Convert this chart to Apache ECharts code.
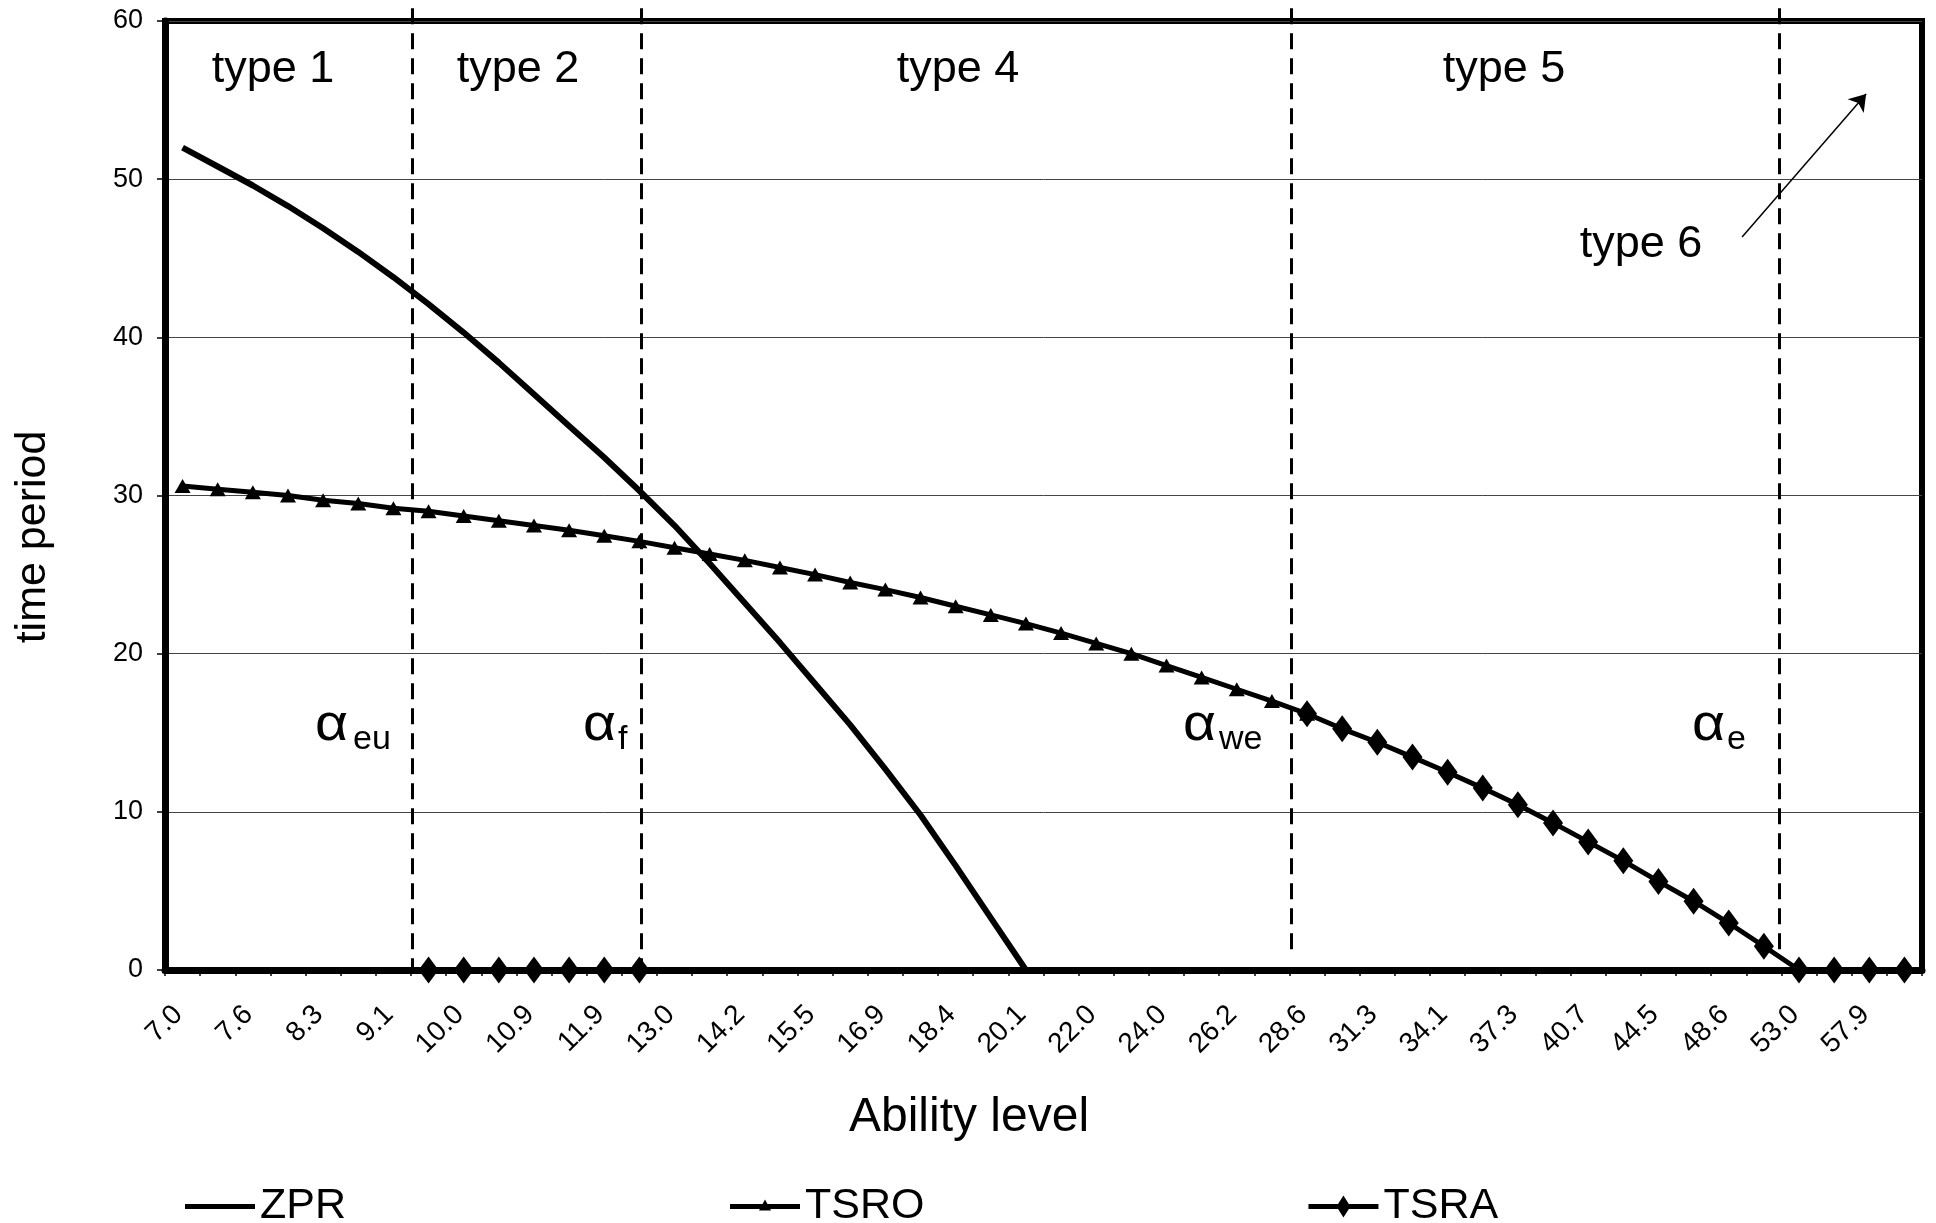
<!DOCTYPE html>
<html>
<head>
<meta charset="utf-8">
<title>time period by ability level</title>
<script src="https://cdn.jsdelivr.net/npm/echarts@6/dist/echarts.min.js"></script>
<style>
  html, body { margin: 0; padding: 0; background: #fff; }
  #chart { width: 1936px; height: 1223px; }
</style>
</head>
<body>
<div id="chart"></div>
<script>
// ability levels (category axis, every other one is labelled)
const abilityLevels = [
  '7.0', '7.3', '7.6', '8.0', '8.3', '8.7', '9.1', '9.5', '10.0', '10.4',
  '10.9', '11.4', '11.9', '12.4', '13.0', '13.5', '14.2', '14.8', '15.5', '16.2',
  '16.9', '17.6', '18.4', '19.3', '20.1', '21.0', '22.0', '23.0', '24.0', '25.1',
  '26.2', '27.4', '28.6', '29.9', '31.3', '32.7', '34.1', '35.7', '37.3', '39.0',
  '40.7', '42.5', '44.5', '46.5', '48.6', '50.7', '53.0', '55.4', '57.9', '60.5'
];

const zprValues = [
  52.0, 50.8, 49.6, 48.3, 46.9, 45.4, 43.8, 42.1, 40.3, 38.4,
  36.4, 34.4, 32.4, 30.3, 28.1, 25.7, 23.2, 20.7, 18.1, 15.5,
  12.7, 9.8, 6.6, 3.3, 0
];

const tsroValues = [
  30.6, 30.4, 30.2, 30.0, 29.7, 29.5, 29.2, 29.0, 28.7, 28.4,
  28.1, 27.8, 27.45, 27.1, 26.7, 26.3, 25.9, 25.45, 25.0, 24.5,
  24.05, 23.55, 23.0, 22.45, 21.9, 21.3, 20.65, 20.0, 19.25, 18.5,
  17.75, 17.0, 16.2
];

const tsraValues = [
  null, null, null, null, null, null, null, 0, 0, 0,
  0, 0, 0, 0, null, null, null, null, null, null,
  null, null, null, null, null, null, null, null, null, null,
  null, null, 16.2, 15.25, 14.4, 13.46, 12.5, 11.5, 10.45, 9.3,
  8.1, 6.9, 5.6, 4.35, 2.97, 1.5, 0, 0, 0, 0
];

// dashed region boundaries, in category-index units
const boundaryPos = [6.55, 13.05, 31.55, 45.45];
const boundaryEnd = [0, 0, 0.8, 0.8];

const typeLabels = ['type 1', 'type 2', 'type 4', 'type 5'];
const typeLabelX = [273, 518, 958, 1504];

const alphaSubs = ['eu', 'f', 'we', 'e'];
const alphaX = [315, 583, 1183, 1692];
const alphaSubX = [353, 618, 1219, 1727];

const FONT = '"Liberation Sans", Arial, Helvetica, sans-serif';

// legend icons: 70x22 box, thick line plus the series marker
const BOX = 'M0,0L0.01,0L0.01,0.01Z M70,22L69.99,22L69.99,21.99Z ';
const BAR = 'M0,8.5L70,8.5L70,13.5L0,13.5Z';
const legendIcons = {
  ZPR: 'path://' + BOX + BAR,
  TSRO: 'path://' + BOX + BAR + ' M29,15L35,4L41,15Z',
  TSRA: 'path://' + BOX + BAR + ' M35,0L42,11L35,22L28,11Z'
};

const chart = echarts.init(document.getElementById('chart'));

const boundaryLines = boundaryPos.map((x, i) => [
  { coord: [x, 60.8], symbol: 'none' },
  { coord: [x, boundaryEnd[i]], symbol: 'none' }
]);

const arrowLine = [
  { coord: [44.38, 46.34], symbol: 'none', lineStyle: { type: 'solid', width: 1.5 } },
  { coord: [47.91, 55.38], symbol: 'arrow', symbolSize: 16 }
];

const graphics = [];
typeLabels.forEach((t, i) => {
  graphics.push({
    type: 'text', x: typeLabelX[i], y: 70,
    style: { text: t, font: '45px ' + FONT, fill: '#000', align: 'center', verticalAlign: 'middle' }
  });
});
graphics.push({
  type: 'text', x: 1641, y: 245,
  style: { text: 'type 6', font: '45px ' + FONT, fill: '#000', align: 'center', verticalAlign: 'middle' }
});
alphaSubs.forEach((s, i) => {
  graphics.push({
    type: 'text', x: alphaX[i], y: 726, scaleX: 1.1,
    style: { text: 'α', font: '52px ' + FONT, fill: '#000', align: 'left', verticalAlign: 'middle' }
  });
  graphics.push({
    type: 'text', x: alphaSubX[i], y: 740,
    style: { text: s, font: '34px ' + FONT, fill: '#000', align: 'left', verticalAlign: 'middle' }
  });
});
graphics.push({
  type: 'text', x: 969, y: 1118,
  style: { text: 'Ability level', font: '48px ' + FONT, fill: '#000', align: 'center', verticalAlign: 'middle' }
});
graphics.push({
  type: 'text', x: 33, y: 537, rotation: Math.PI / 2,
  style: { text: 'time period', font: '43px ' + FONT, fill: '#000', align: 'center', verticalAlign: 'middle' }
});

const option = {
  animation: false,
  backgroundColor: '#fff',
  textStyle: { fontFamily: FONT, color: '#000' },
  grid: [
    { left: 165, right: 14, top: 21, bottom: 253, show: true, borderColor: '#000', borderWidth: 6 },
    { left: 165, right: 14, top: 8.3, bottom: 253 }
  ],
  legend: {
    data: ['ZPR', 'TSRO', 'TSRA'].map((n) => ({ name: n, icon: legendIcons[n] })),
    left: 180,
    top: 1180,
    itemWidth: 70,
    itemHeight: 22,
    itemGap: 384,
    textStyle: { fontSize: 43, color: '#000', fontFamily: FONT }
  },
  xAxis: [
    {
      type: 'category',
      gridIndex: 0,
      data: abilityLevels,
      axisLine: { lineStyle: { color: '#000', width: 7 } },
      axisTick: { show: true, interval: 0, length: 6, lineStyle: { color: '#000', width: 1.5 } },
      axisLabel: {
        interval: 1, rotate: 45, margin: 36, fontSize: 28, color: '#000', fontFamily: FONT,
        padding: [0, 6, 0, 0]
      },
      splitLine: { show: false }
    },
    { type: 'value', gridIndex: 1, min: -0.5, max: 49.5, show: false }
  ],
  yAxis: [
    {
      type: 'value',
      gridIndex: 0,
      min: 0,
      max: 60,
      interval: 10,
      axisLine: { show: true, lineStyle: { color: '#000', width: 7 } },
      axisTick: { show: true, length: 8, lineStyle: { color: '#000', width: 1.5 } },
      axisLabel: { margin: 22, fontSize: 27, color: '#000', fontFamily: FONT },
      splitLine: { show: true, lineStyle: { color: '#444', width: 1 } }
    },
    { type: 'value', gridIndex: 1, min: 0, max: 60.8, show: false }
  ],
  series: [
    {
      name: 'ZPR',
      type: 'line',
      data: zprValues,
      symbol: 'none',
      lineStyle: { color: '#000', width: 6 },
      itemStyle: { color: '#000' },
      z: 3
    },
    {
      name: 'TSRO',
      type: 'line',
      data: tsroValues,
      symbol: 'triangle',
      symbolSize: [16, 14],
      showAllSymbol: true,
      lineStyle: { color: '#000', width: 5 },
      itemStyle: { color: '#000' },
      z: 4
    },
    {
      name: 'TSRA',
      type: 'line',
      data: tsraValues,
      symbol: 'diamond',
      symbolSize: [20, 27],
      showAllSymbol: true,
      connectNulls: false,
      lineStyle: { color: '#000', width: 5 },
      itemStyle: { color: '#000' },
      z: 5
    },
    {
      type: 'line',
      xAxisIndex: 1,
      yAxisIndex: 1,
      data: [],
      silent: true,
      markLine: {
        silent: true,
        animation: false,
        label: { show: false },
        lineStyle: { color: '#000', type: [16, 9], width: 3 },
        emphasis: { disabled: true },
        data: boundaryLines.concat([arrowLine])
      }
    }
  ],
  graphic: graphics
};

chart.setOption(option);
window.onresize = function () {
  chart.resize();
};
</script>
</body>
</html>
